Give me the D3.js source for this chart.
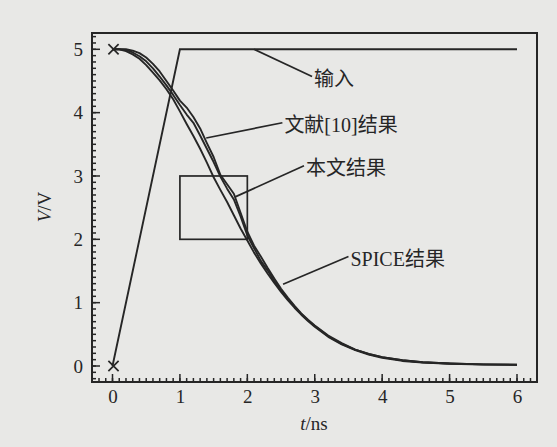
<!DOCTYPE html>
<html><head><meta charset="utf-8">
<script src="https://cdn.jsdelivr.net/npm/d3@7"></script>
<style>
html,body{margin:0;padding:0;background:#e8e8e6;}
svg{display:block;}
</style></head>
<body>
<svg id="c" width="557" height="447"></svg>
<script>
// ---- data ----
const times = [0,0.1,0.2,0.3,0.4,0.5,0.6,0.7,0.8,0.9,1.0,1.1,1.2,1.3,1.4,1.5,1.6,1.7,1.8,1.9,2.0,2.1,2.2,2.3,2.4,2.5,2.6,2.7,2.8,2.9,3.0,3.2,3.4,3.6,3.8,4.0,4.3,4.6,5.0,5.5,6.0];
const spiceV = [5.00,5.00,4.97,4.92,4.85,4.75,4.63,4.51,4.37,4.21,4.02,3.82,3.63,3.43,3.21,2.98,2.78,2.59,2.38,2.17,1.98,1.79,1.62,1.46,1.31,1.17,1.04,0.92,0.81,0.71,0.62,0.46,0.34,0.25,0.18,0.13,0.08,0.055,0.035,0.022,0.018];
const thisWorkV = [5.00,5.00,4.99,4.95,4.89,4.81,4.70,4.57,4.43,4.28,4.12,3.97,3.84,3.64,3.43,3.22,2.99,2.80,2.63,2.36,2.06,1.86,1.66,1.51,1.34,1.19,1.06,0.94,0.82,0.72,0.63,0.47,0.35,0.26,0.19,0.14,0.09,0.06,0.04,0.025,0.02];
const refV = [5.00,5.00,5.00,4.98,4.94,4.87,4.77,4.65,4.50,4.35,4.19,4.08,3.93,3.75,3.52,3.30,3.02,2.87,2.72,2.42,2.12,1.90,1.73,1.55,1.38,1.22,1.08,0.95,0.83,0.73,0.64,0.48,0.36,0.26,0.19,0.14,0.09,0.06,0.04,0.025,0.02];
const inputT = [0,1,6];
const inputV = [0,5,5];
const markerT = [0,0];
const markerV = [0,5];
const boxT = [1,2];
const boxV = [2,3];
const xTicks = [0,1,2,3,4,5,6];
const yTicks = [0,1,2,3,4,5];
const labels = ["输入","文献[10]结果","本文结果","SPICE结果"];
// annotation leader lines in data units: [t0,v0,t1,v1]
const leaders = [[2.1,5.0,2.96,4.57],[1.39,3.6,2.52,3.84],[1.82,2.67,2.84,3.16],[2.53,1.29,3.50,1.73]];
const xLabel = "t/ns", yLabel = "V/V";

// ---- layout ----
const svg = d3.select("#c");
const ink = "#262626";
const x = d3.scaleLinear().domain([0,6]).range([112.5,517]);
const y = d3.scaleLinear().domain([0,5]).range([366,49.3]);
const fL = 92, fR = 537, fT = 33, fB = 382;
const x0 = x.invert(fL), x1 = x.invert(fR);
const y0 = y.invert(fB), y1 = y.invert(fT);

// frame
svg.append("rect").attr("x",fL).attr("y",fT).attr("width",fR-fL).attr("height",fB-fT)
  .attr("fill","none").attr("stroke",ink).attr("stroke-width",2);

// axes (labels via d3 axes, inward ticks drawn from the same scales)
const serif = "'Liberation Serif','Times New Roman',serif";
const minorX = d3.range(-3,64).map(i=>i/10).filter(v=>v>x0&&v<x1);
const minorY = d3.range(-2,53).map(i=>i/10).filter(v=>v>y0&&v<y1);
const gx = svg.append("g").attr("transform",`translate(0,${fB})`)
  .call(d3.axisBottom(x).tickValues(xTicks).tickSize(0).tickPadding(8).tickFormat(d3.format("d")));
const gy = svg.append("g").attr("transform",`translate(${fL},0)`)
  .call(d3.axisLeft(y).tickValues(yTicks).tickSize(0).tickPadding(9).tickFormat(d3.format("d")));
[gx,gy].forEach(g=>{
  g.select(".domain").remove();
  g.selectAll("text").attr("fill",ink).style("font-family",serif).style("font-size","19px");
});
const tk = svg.append("g").attr("stroke",ink).attr("stroke-width",1.5);
tk.selectAll(".mx").data(minorX).join("line")
  .attr("x1",d=>x(d)).attr("x2",d=>x(d)).attr("y1",fB).attr("y2",fB-4);
tk.selectAll(".my").data(minorY).join("line")
  .attr("y1",d=>y(d)).attr("y2",d=>y(d)).attr("x1",fL).attr("x2",fL+4);
tk.selectAll(".Mx").data(xTicks).join("line")
  .attr("x1",d=>x(d)).attr("x2",d=>x(d)).attr("y1",fB).attr("y2",fB-8);
tk.selectAll(".My").data(yTicks).join("line")
  .attr("y1",d=>y(d)).attr("y2",d=>y(d)).attr("x1",fL).attr("x2",fL+8);

// axis titles
const xt = svg.append("text").attr("x",314).attr("y",430).attr("text-anchor","middle")
  .style("font-family",serif).style("font-size","19px").attr("fill",ink);
xt.append("tspan").style("font-style","italic").text(xLabel.split("/")[0]);
xt.append("tspan").text("/"+xLabel.split("/")[1]);
const yt = svg.append("text").attr("transform","translate(51,207) rotate(-90)").attr("text-anchor","middle")
  .style("font-family",serif).style("font-size","19px").attr("fill",ink);
yt.append("tspan").style("font-style","italic").text(yLabel.split("/")[0]);
yt.append("tspan").text("/"+yLabel.split("/")[1]);

// lines
const line = d3.line().x(d=>x(d[0])).y(d=>y(d[1]));
const series = [spiceV, thisWorkV, refV];
series.forEach(vals=>{
  svg.append("path").datum(times.map((t,i)=>[t,vals[i]]))
    .attr("d",line).attr("fill","none").attr("stroke",ink).attr("stroke-width",1.9)
    .attr("stroke-linejoin","round");
});
svg.append("path").datum(inputT.map((t,i)=>[t,inputV[i]]))
  .attr("d",line).attr("fill","none").attr("stroke",ink).attr("stroke-width",1.9);

// box
svg.append("rect").attr("x",x(boxT[0])).attr("y",y(boxV[1]))
  .attr("width",x(boxT[1])-x(boxT[0])).attr("height",y(boxV[0])-y(boxV[1]))
  .attr("fill","none").attr("stroke",ink).attr("stroke-width",1.7);

// markers
svg.selectAll(".mk").data(markerT.map((t,i)=>[t,markerV[i]])).join("path")
  .attr("d",d3.symbol().type(d3.symbolX).size(70))
  .attr("transform",d=>`translate(${x(d[0])+1},${y(d[1])})`)
  .attr("fill","none").attr("stroke",ink).attr("stroke-width",1.7);

// annotations
const cjk = "'Liberation Serif','Noto Sans CJK SC',serif";
leaders.forEach((l,i)=>{
  svg.append("line").attr("x1",x(l[0])).attr("y1",y(l[1])).attr("x2",x(l[2])).attr("y2",y(l[3]))
    .attr("stroke",ink).attr("stroke-width",1.7);
  svg.append("text").attr("x",x(l[2])+2).attr("y",y(l[3])+3).attr("dy","0.32em")
    .style("font-family",cjk).style("font-size","20px").attr("fill",ink).text(labels[i]);
});
</script>
</body></html>
